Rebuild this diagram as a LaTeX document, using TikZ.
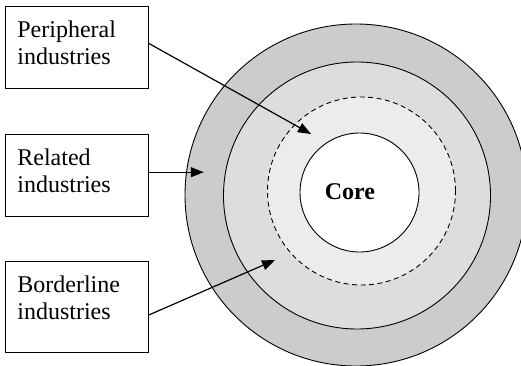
\documentclass[tikz,border=0pt]{standalone}
\usepackage{fontspec}
\setmainfont{Liberation Serif}
\usepackage{tikz}
\usetikzlibrary{shapes,arrows.meta,positioning,calc}

\definecolor{outerring}{gray}{0.80}
\definecolor{midring}{gray}{0.865}
\definecolor{innerring}{gray}{0.925}

\begin{document}
\begin{tikzpicture}[
    x=1pt, y=-1pt,
    font=\fontsize{24}{27}\selectfont,
    ring/.style={circle, draw, line width=0.9pt, inner sep=0pt},
    industry/.style={rectangle, draw, line width=0.8pt, text width=119pt, align=left, inner xsep=12pt, inner ysep=15pt, text height=16pt, text depth=36pt},
    arrow/.style={-{Triangle[length=13pt,width=10pt]}, line width=1.2pt}
]
\useasboundingbox (0,0) rectangle (521,366);

% zones of the cluster
\node [ring, fill=outerring, minimum size=342pt] (outer) at (356,195) {};
\node [ring, fill=midring, minimum size=267pt] (middle) at (357,195.5) {};
\node [ring, fill=innerring, dash pattern=on 5pt off 3.5pt, minimum size=188pt] (inner) at (361.5,191) {};
\node [ring, fill=white, minimum size=119pt] (core) at (359.5,192.5) {};
\node [font=\fontsize{24}{27}\selectfont\bfseries] (corelabel) at (350,192) {Core};

% industry boxes
\node [industry, anchor=north west] (periph) at (5,6) {Peripheral\\industries};
\node [industry, below=45pt of periph] (related) {Related\\industries};
\node [industry, below=44pt of related, text depth=45pt] (border) {Borderline\\industries};

\coordinate (periphtip) at (311,134);
\coordinate (relatedtip) at ([xshift=55pt,yshift=3pt]related.east);
\coordinate (bordertip) at (275,260);

\draw [arrow] ([yshift=4pt]periph.east) -- (periphtip);
\draw [arrow] ([yshift=3pt]related.east) -- (relatedtip);
\draw [arrow] ([yshift=-8.5pt]border.east) -- (bordertip);

\end{tikzpicture}
\end{document}
